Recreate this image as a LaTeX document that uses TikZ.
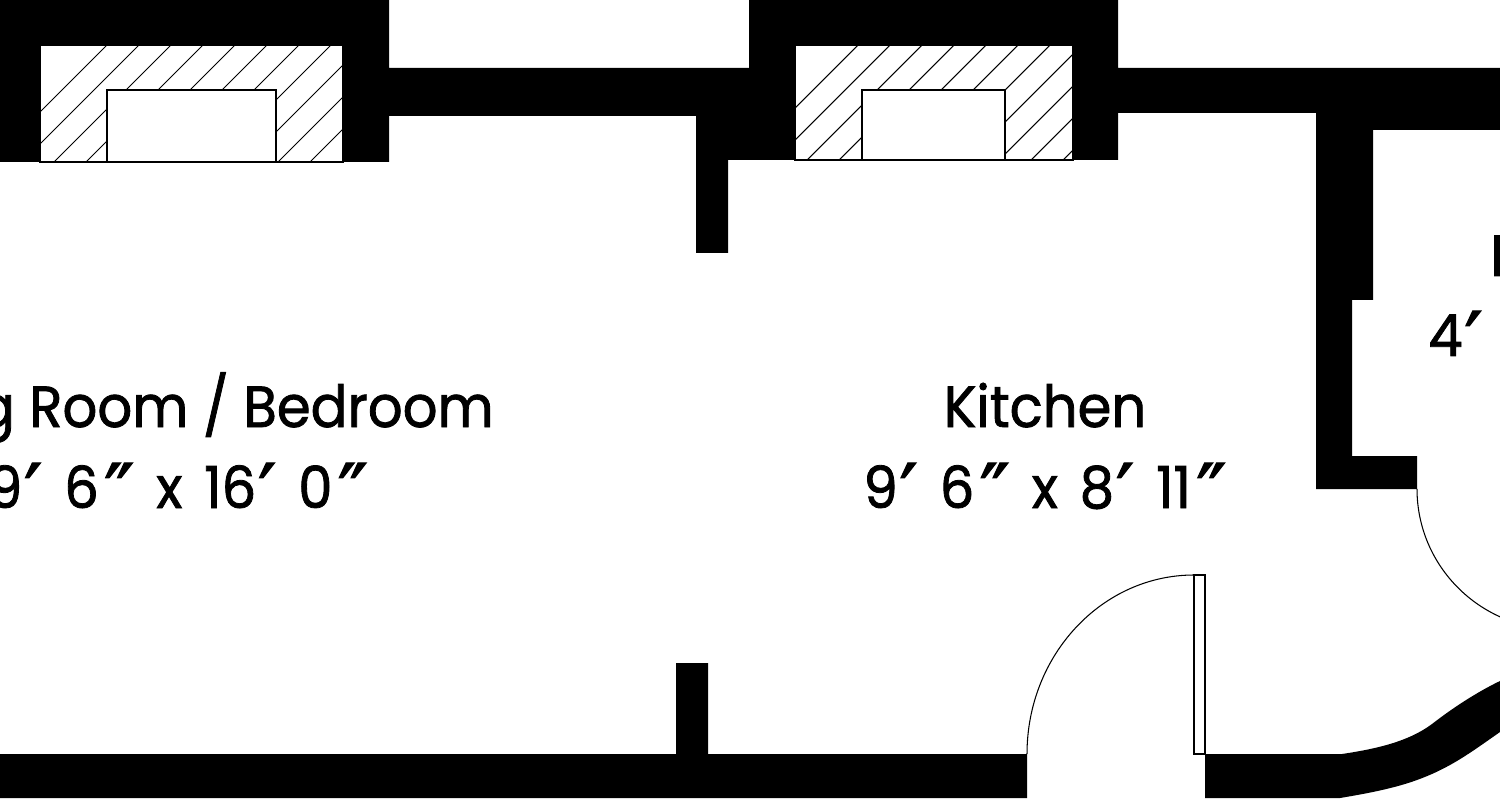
\documentclass[tikz,border=0pt]{standalone}
\usepackage{fontspec}
\setmainfont{Poppins}[FakeStretch=0.94,FakeBold=1.4]
\newfontfamily\sizefont{Poppins}[FakeStretch=0.94,FakeBold=1.4,WordSpace=1.5]
\newfontfamily\primefont{DejaVu Sans}[FakeBold=1.5,Scale=1.4]
\newcommand{\ftmark}{\kern1pt\raisebox{-8pt}{\primefont ′}}
\newcommand{\inmark}{\kern3pt\raisebox{-8pt}{\primefont ″}}
\tikzset{
  wall/.style={fill=black,draw=none},
  flue/.style={draw=black,line width=0.6pt},
  leaf/.style={draw=black,line width=0.6pt,fill=white},
  swing/.style={draw=black,line width=0.6pt},
  roomlabel/.style={inner sep=0pt,anchor=base,font=\fontsize{33}{40}\selectfont},
  sizelabel/.style={roomlabel,font=\sizefont\fontsize{33}{40}\selectfont},
}
\begin{document}
\begin{tikzpicture}[x=0.02cm,y=-0.02cm]
	\useasboundingbox (0,0) rectangle (1500,800);
	\clip (0,0) rectangle (1500,800);
	% top wall with both chimney breasts
	\fill[wall] (0,0)--(389,0)--(389,68)--(749,68)--(749,0)--(1118,0)--(1118,68)--(1500,68)--(1500,130)
		--(1373,130)--(1373,300)--(1352,300)--(1352,456)--(1417,456)--(1417,489)--(1316,489)--(1316,113)
		--(1118,113)--(1118,160)--(728,160)--(728,253)--(696,253)--(696,116)--(389,116)--(389,162)--(0,162)--cycle;
	% bottom wall
	\fill[wall] (0,754)--(676,754)--(676,663)--(708,663)--(708,754)--(1027,754)--(1027,798)--(0,798)--cycle;
	\fill[wall] (1205,754)--(1342,754) .. controls (1375,749) and (1408,742) .. (1432,724)
		.. controls (1450,710) and (1475,693) .. (1500,681)--(1500,732)
		.. controls (1470,753) and (1450,768) .. (1417,780)
		.. controls (1395,788) and (1370,793) .. (1340,798)--(1205,798)--cycle;
	% hatched hearths
	\fill[white] (40,45) rectangle (343,162);
	\begin{scope}
		\clip (40,45) rectangle (343,162);
		\foreach \s in {0,...,10} {
			\draw[flue] (107+32*\s-135,45+135)--(107+32*\s+45,45-45);
		}
	\end{scope}
	\draw[flue] (40,45) rectangle (343,162);
	\draw[leaf] (107,90) rectangle (276,162);
	\fill[white] (795,45) rectangle (1073,160);
	\begin{scope}
		\clip (795,45) rectangle (1073,160);
		\foreach \s in {0,...,12} {
			\draw[flue] (858+32*\s-135,45+135)--(858+32*\s+45,45-45);
		}
	\end{scope}
	\draw[flue] (795,45) rectangle (1073,160);
	\draw[leaf] (862,90) rectangle (1005,160);
	% doors
	\draw[leaf] (1194,575) rectangle (1205,754);
	\draw[swing] (1194,575) .. controls (1102,575) and (1027,655) .. (1027,754);
	\draw[swing] (1417,489) .. controls (1417,566) and (1480,629) .. (1557,629);
	% labels
	\node[roomlabel] (living) at (178,427) {Living Room / Bedroom};
	\node[sizelabel] (livingsize) at (178,508) {9\ftmark{} 6\inmark{} x 16\ftmark{} 0\inmark};
	\node[roomlabel] (kitchen) at (1045,427) {Kitchen};
	\node[sizelabel] (kitchensize) at (1045,508) {9\ftmark{} 6\inmark{} x 8\ftmark{} 11\inmark};
	\node[roomlabel,anchor=base west] (bath) at (1490,276) {B};
	\node[roomlabel,anchor=base west] (bathsize) at (1428,356) {4\ftmark};
\end{tikzpicture}
\end{document}
